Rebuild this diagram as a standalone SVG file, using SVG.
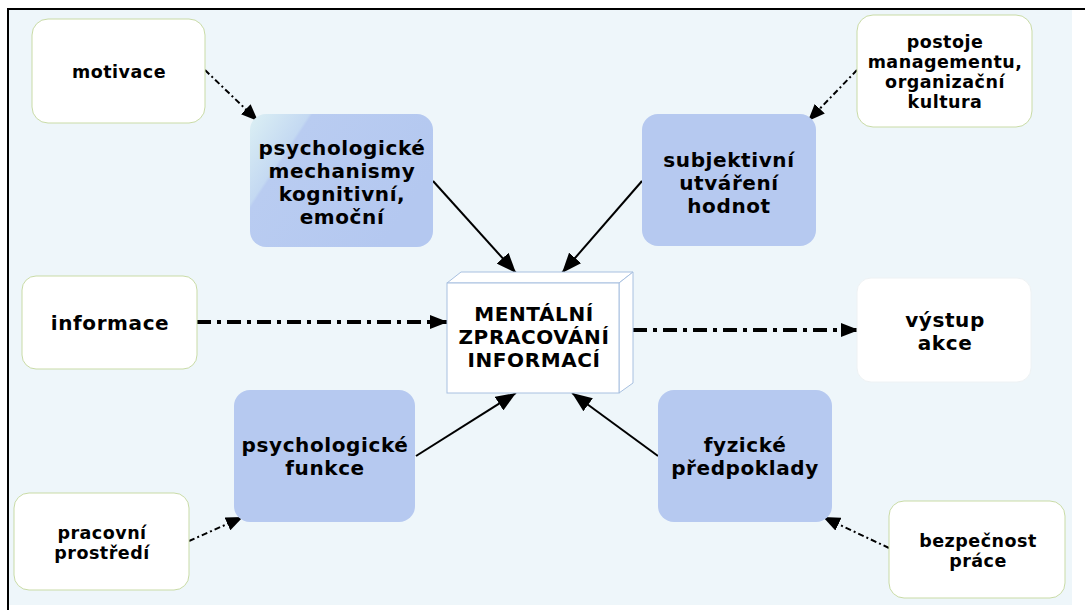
<svg xmlns="http://www.w3.org/2000/svg" width="1085" height="610" viewBox="0 0 1085 610">
<style>
.t{font-family:"DejaVu Sans",Verdana,sans-serif;font-weight:bold;fill:#000;text-anchor:middle}
.s{font-size:17.5px;letter-spacing:0.5px}
.m{font-size:20px;letter-spacing:0.6px}
.w{fill:#fff;stroke:#c9dba6;stroke-width:1}
.b{fill:#b6c9f0;stroke:none}
.thin{stroke:#000;stroke-width:2;fill:none;stroke-dasharray:6 3 2 3}
.thick{stroke:#000;stroke-width:4;fill:none;stroke-dasharray:14 6 4 6}
.sol{stroke:#000;stroke-width:2;fill:none}
</style>
<defs>
<marker id="ahs" viewBox="0 0 20 16" refX="20" refY="8" markerWidth="20" markerHeight="16" markerUnits="userSpaceOnUse" orient="auto"><path d="M0,0L20,8L0,16z" fill="#000"/></marker>
<marker id="aht" viewBox="0 0 18 14" refX="18" refY="7" markerWidth="18" markerHeight="14" markerUnits="userSpaceOnUse" orient="auto"><path d="M0,0L18,7L0,14z" fill="#000"/></marker>
<marker id="ahd" viewBox="0 0 17 14" refX="17" refY="7" markerWidth="17" markerHeight="14" markerUnits="userSpaceOnUse" orient="auto"><path d="M0,0L17,7L0,14z" fill="#000"/></marker>
<linearGradient id="g" gradientUnits="userSpaceOnUse" x1="250" y1="114" x2="403" y2="215">
<stop offset="0" stop-color="#dcf0f4"/>
<stop offset="0.27" stop-color="#c4d9f2"/>
<stop offset="0.285" stop-color="#b9ccf1"/>
<stop offset="1" stop-color="#b4c8f0"/>
</linearGradient>
</defs>
<rect x="0" y="0" width="1085" height="610" fill="#fff"/>
<rect x="9" y="10" width="1063" height="595" fill="#eef6fa"/>
<line x1="7" y1="9" x2="1085" y2="9" stroke="#000" stroke-width="2"/>
<line x1="8" y1="8" x2="8" y2="610" stroke="#000" stroke-width="2"/>

<g id="connectors">
<line class="thin" x1="205" y1="70" x2="258" y2="121" marker-end="url(#ahd)"/>
<line class="thin" x1="857" y1="70" x2="808" y2="121" marker-end="url(#ahd)"/>
<line class="sol" x1="433" y1="181" x2="516" y2="273" marker-end="url(#ahs)"/>
<line class="sol" x1="642" y1="181" x2="562" y2="273" marker-end="url(#ahs)"/>
<line class="sol" x1="416" y1="456" x2="516" y2="393" marker-end="url(#ahs)"/>
<line class="sol" x1="658" y1="456" x2="572" y2="393" marker-end="url(#ahs)"/>
<line class="thick" x1="197" y1="322" x2="448" y2="322" marker-end="url(#aht)"/>
<line class="thick" x1="633" y1="330" x2="859" y2="330" marker-end="url(#aht)"/>
<line class="thin" x1="189" y1="541" x2="243" y2="517" marker-end="url(#ahd)"/>
<line class="thin" x1="889" y1="548" x2="823" y2="517" marker-end="url(#ahd)"/>
</g>

<g id="motivace">
<rect class="w" x="32" y="19" width="173" height="104" rx="16"/>
<text class="t s" x="119" y="78">motivace</text>
</g>

<g id="psych-mechanismy">
<rect x="250" y="114" width="183" height="133" rx="16" fill="url(#g)"/>
<text class="t m" x="342" y="155">psychologické</text>
<text class="t m" x="342" y="178">mechanismy</text>
<text class="t m" x="342" y="201">kognitivní,</text>
<text class="t m" x="342" y="224">emoční</text>
</g>

<g id="subjektivni">
<rect class="b" x="642" y="114" width="174" height="132" rx="16"/>
<text class="t m" x="729" y="167">subjektivní</text>
<text class="t m" x="729" y="190">utváření</text>
<text class="t m" x="729" y="213">hodnot</text>
</g>

<g id="postoje">
<rect class="w" x="857" y="15" width="175" height="112" rx="16"/>
<text class="t s" x="945" y="48">postoje</text>
<text class="t s" x="945" y="68">managementu,</text>
<text class="t s" x="945" y="88">organizační</text>
<text class="t s" x="945" y="108">kultura</text>
</g>

<g id="informace">
<rect class="w" x="22" y="276" width="175" height="93" rx="14"/>
<text class="t m" x="110" y="330">informace</text>
</g>

<g id="mentalni">
<path d="M447,283L461,272L633,272L619,283Z" fill="#fff" stroke="#a8c0e0" stroke-width="1"/>
<path d="M619,283L633,272L633,383L619,393Z" fill="#fff" stroke="#a8c0e0" stroke-width="1"/>
<rect x="447" y="283" width="172" height="110" fill="#fff" stroke="#a8c0e0" stroke-width="1"/>
<text class="t m" x="534" y="321">MENTÁLNÍ</text>
<text class="t m" x="534" y="344">ZPRACOVÁNÍ</text>
<text class="t m" x="534" y="367">INFORMACÍ</text>
</g>

<g id="vystup">
<rect x="857" y="278" width="174" height="104" rx="14" fill="#fff" stroke="#eef2f4" stroke-width="1"/>
<text class="t m" x="945" y="327">výstup</text>
<text class="t m" x="945" y="350">akce</text>
</g>

<g id="psych-funkce">
<rect class="b" x="234" y="390" width="181" height="132" rx="16"/>
<text class="t m" x="325" y="452">psychologické</text>
<text class="t m" x="325" y="475">funkce</text>
</g>

<g id="fyzicke">
<rect class="b" x="658" y="390" width="174" height="132" rx="16"/>
<text class="t m" x="745" y="452">fyzické</text>
<text class="t m" x="745" y="475">předpoklady</text>
</g>

<g id="pracovni">
<rect class="w" x="14" y="493" width="175" height="97" rx="15"/>
<text class="t s" x="102" y="539">pracovní</text>
<text class="t s" x="102" y="559">prostředí</text>
</g>

<g id="bezpecnost">
<rect class="w" x="889" y="501" width="176" height="97" rx="15"/>
<text class="t s" x="978" y="547">bezpečnost</text>
<text class="t s" x="978" y="567">práce</text>
</g>
</svg>
